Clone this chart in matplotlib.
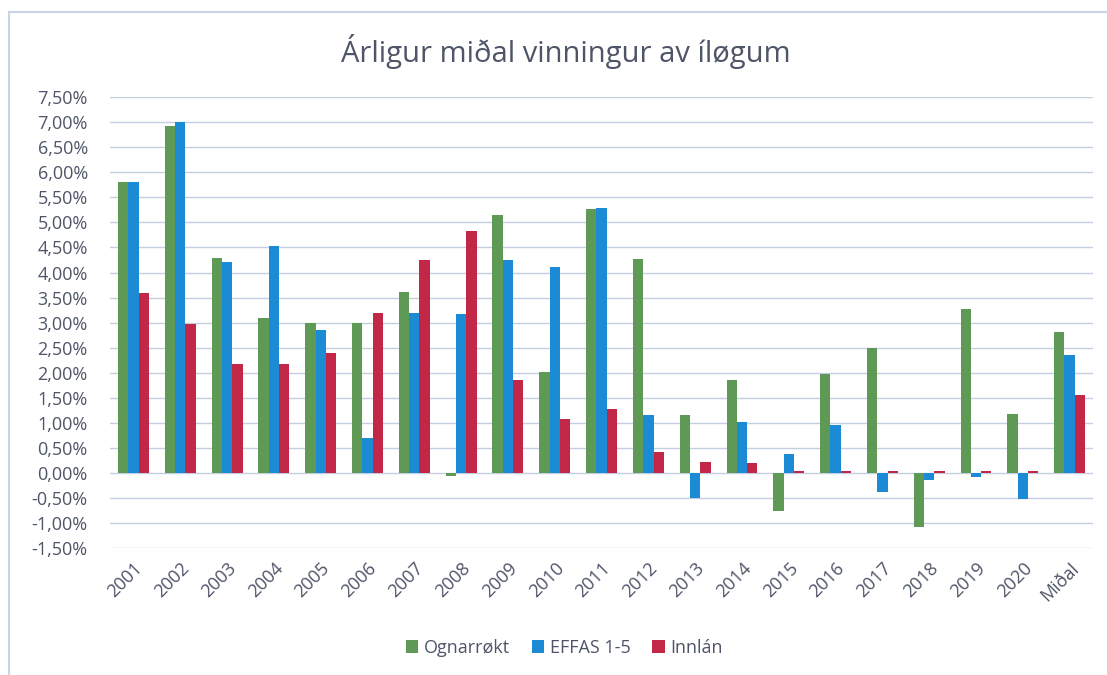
import matplotlib.pyplot as plt
import numpy as np
from matplotlib.lines import Line2D
from matplotlib.ticker import FuncFormatter

plt.rcParams['font.family'] = ['Open Sans', 'DejaVu Sans']

categories = ['2001', '2002', '2003', '2004', '2005', '2006', '2007', '2008',
              '2009', '2010', '2011', '2012', '2013', '2014', '2015', '2016',
              '2017', '2018', '2019', '2020', 'Miðal']

ognarrokt = [5.80, 6.92, 4.30, 3.10, 3.00, 3.00, 3.62, -0.06, 5.14, 2.02, 5.26,
             4.28, 1.16, 1.86, -0.76, 1.98, 2.50, -1.08, 3.28, 1.18, 2.82]
effas = [5.80, 7.00, 4.22, 4.52, 2.86, 0.70, 3.20, 3.18, 4.26, 4.12, 5.28,
         1.16, -0.50, 1.02, 0.38, 0.96, -0.38, -0.14, -0.08, -0.52, 2.36]
innlan = [3.60, 2.98, 2.18, 2.18, 2.40, 3.20, 4.26, 4.82, 1.86, 1.08, 1.28,
          0.42, 0.22, 0.20, 0.04, 0.04, 0.04, 0.04, 0.04, 0.04, 1.56]

series = [('Ognarrøkt', ognarrokt, '#5e9a55'),
          ('EFFAS 1-5', effas, '#1b8bd5'),
          ('Innlán', innlan, '#c22747')]

TXT = '#4f5568'

fig = plt.figure(figsize=(11.07, 6.75), dpi=100)
ax = fig.add_axes([0.0994, 0.188, 0.888, 0.668])

x = np.arange(len(categories))
w = 0.22
for i, (name, vals, col) in enumerate(series):
    ax.bar(x + (i - 1) * w, vals, w, color=col, label=name, zorder=3)

ax.set_xlim(-0.5, len(categories) - 0.5)
ax.set_ylim(-1.5, 7.5)
ax.set_yticks(np.arange(-1.5, 7.51, 0.5))
ax.yaxis.set_major_formatter(FuncFormatter(lambda v, p: f'{v:.2f}%'.replace('.', ',')))
ax.set_xticks(x)
ax.set_xticklabels(categories, rotation=45, ha='right', rotation_mode='anchor')
ax.tick_params(axis='both', length=0, colors=TXT, labelsize=13)
ax.tick_params(axis='x', pad=8)
ax.tick_params(axis='y', pad=16)
ax.grid(axis='y', color='#c3cee3', lw=1, zorder=0)
for s in ax.spines.values():
    s.set_visible(False)

fig.suptitle('Árligur miðal vinningur av íløgum', x=0.511, y=0.95,
             fontsize=21, color=TXT)

ax.legend(loc='upper center', bbox_to_anchor=(0.462, -0.165), ncol=3,
          frameon=False, fontsize=13, labelcolor=TXT, handlelength=0.7,
          handleheight=0.7, handletextpad=0.3, columnspacing=1.2)

# outer frame (only top and left edge visible in the original)
fig.add_artist(Line2D([0.008, 1.0], [0.982, 0.982], color='#c9d3e3', lw=1.5,
                      transform=fig.transFigure))
fig.add_artist(Line2D([0.008, 0.008], [0.0, 0.982], color='#c9d3e3', lw=1.5,
                      transform=fig.transFigure))

fig.savefig('out.png', dpi=100)
